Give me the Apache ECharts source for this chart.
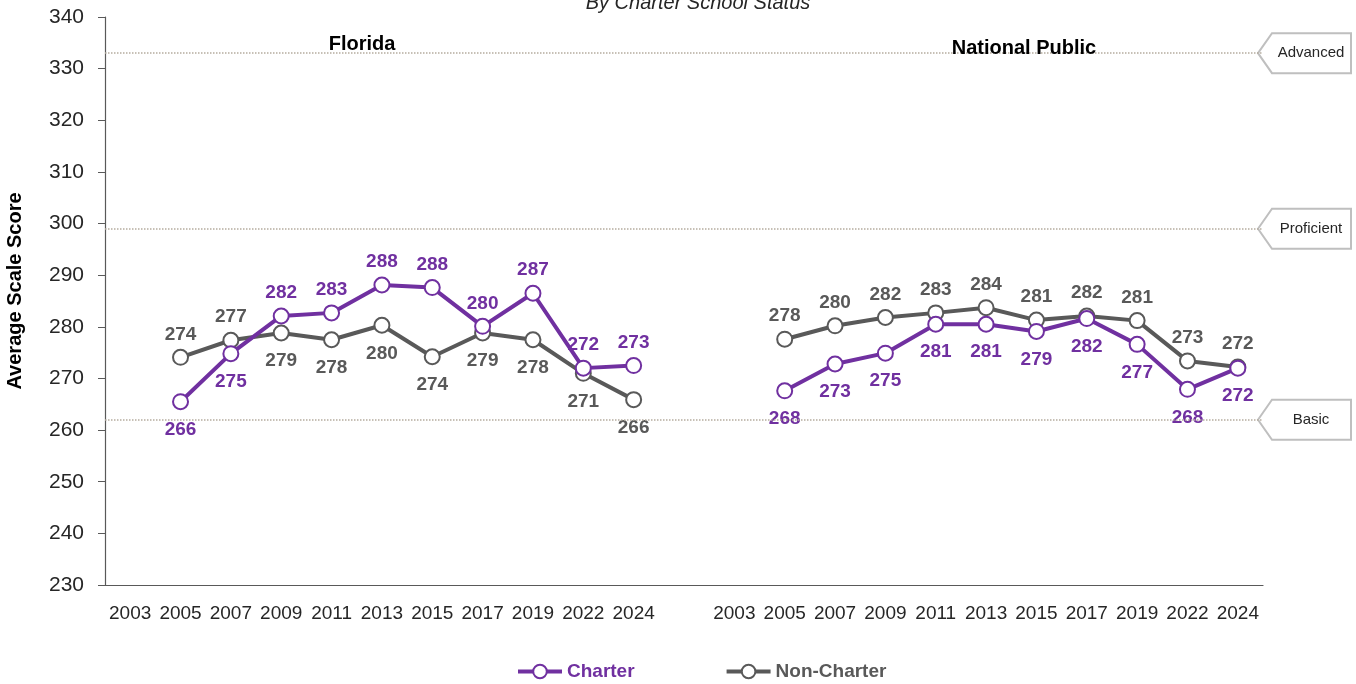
<!DOCTYPE html>
<html>
<head>
<meta charset="utf-8">
<script src="https://cdn.jsdelivr.net/npm/echarts@6/dist/echarts.min.js"></script>
<style>
    html, body { margin: 0; padding: 0; background: #fff; }
    #chart { width: 1356px; height: 684px; }
</style>
</head>
<body>
<div id="chart"></div>
<script>
// 年份（两个面板共用）
var years = ['2003', '2005', '2007', '2009', '2011', '2013', '2015', '2017', '2019', '2022', '2024'];
var tickLabels = years.concat([''], years);

// Florida
var flCharter = [null, 265.5, 274.8, 282.1, 282.7, 288.1, 287.6, 280.1, 286.5, 272.0, 272.5];
var flNonCharter = [null, 274.1, 277.4, 278.8, 277.5, 280.3, 274.2, 278.8, 277.5, 271.0, 265.9];
// National Public
var natCharter = [null, 267.6, 272.8, 274.9, 280.5, 280.5, 279.1, 281.6, 276.6, 267.9, 272.0];
var natNonCharter = [null, 277.6, 280.2, 281.8, 282.7, 283.7, 281.3, 282.1, 281.2, 273.4, 272.2];

// 成绩等级线
var levelNames = ['Advanced', 'Proficient', 'Basic'];
var levelValues = [333, 299, 262];

var PURPLE = '#7030A0';
var GRAY = '#595959';
var FONT = "'Liberation Sans', Arial, sans-serif";

// 标签位置 (上/下)
var T = 'top', B = 'bottom';
var flCharterPos = [B, B, B, T, T, T, T, T, T, T, T];
var flNonPos = [T, T, T, B, B, B, B, B, B, B, B];
var natCharterPos = [B, B, B, B, B, B, B, B, B, B, B];
var natNonPos = [T, T, T, T, T, T, T, T, T, T, T];

function buildData(fl, nat, flPos, natPos) {
    var values = fl.concat([null], nat);
    var pos = flPos.concat([T], natPos);
    var out = [];
    for (var i = 0; i < values.length; i++) {
        out.push({
            value: values[i],
            label: {position: pos[i], distance: pos[i] === T ? 5 : 10}
        });
    }
    return out;
}

var chart = echarts.init(document.getElementById('chart'));

function lineSeries(name, color, data, extra) {
    var s = {
        name: name,
        type: 'line',
        data: data,
        connectNulls: false,
        symbol: 'emptyCircle',
        symbolSize: 15,
        lineStyle: {color: color, width: 4},
        itemStyle: {color: color, borderColor: color, borderWidth: 3.5},
        label: {
            show: true,
            color: color,
            fontFamily: FONT,
            fontSize: 19,
            fontWeight: 'bold',
            formatter: function (p) {
                return p.value == null ? '' : Math.round(p.value);
            }
        },
        emphasis: {disabled: true}
    };
    for (var k in extra) s[k] = extra[k];
    return s;
}

var option = {
    animation: false,
    textStyle: {fontFamily: FONT},
    title: [{
        text: 'By Charter School Status',
        left: 693,
        top: -12,
        textAlign: 'center',
        textStyle: {fontFamily: FONT, fontSize: 20, fontStyle: 'italic', fontWeight: 'normal', color: '#262626'}
    }, {
        text: 'Florida',
        left: 357,
        top: 29,
        textAlign: 'center',
        textStyle: {fontFamily: FONT, fontSize: 20, fontWeight: 'bold', color: '#000'}
    }, {
        text: 'National Public',
        left: 1019,
        top: 33,
        textAlign: 'center',
        textStyle: {fontFamily: FONT, fontSize: 20, fontWeight: 'bold', color: '#000'}
    }],
    legend: {
        left: 511,
        top: 657,
        itemWidth: 44,
        itemHeight: 17,
        itemGap: 90,
        lineStyle: {width: 4},
        itemStyle: {borderWidth: 3.5},
        textStyle: {fontFamily: FONT, fontSize: 19, fontWeight: 'bold'},
        data: [
            {name: 'Charter', textStyle: {color: PURPLE}},
            {name: 'Non-Charter', textStyle: {color: GRAY}}
        ]
    },
    grid: {left: 105, right: 93, top: 17, bottom: 99, outerBoundsMode: 'none'},
    xAxis: {
        type: 'category',
        data: tickLabels.map(function (_, i) { return String(i); }),
        boundaryGap: true,
        axisLine: {lineStyle: {color: GRAY, width: 1.2}},
        axisTick: {alignWithLabel: true, length: 7, lineStyle: {color: GRAY}},
        axisLabel: {
            interval: 0,
            margin: 19,
            fontSize: 19,
            color: '#262626',
            formatter: function (v, i) { return tickLabels[i]; }
        }
    },
    yAxis: {
        type: 'value',
        min: 230,
        max: 340,
        interval: 10,
        name: 'Average Scale Score',
        nameLocation: 'middle',
        nameGap: 80,
        nameTextStyle: {fontFamily: FONT, fontSize: 20, fontWeight: 'bold', color: '#000', padding: [0, 0, 0, 20]},
        axisLine: {show: true, lineStyle: {color: GRAY, width: 1.2}},
        axisTick: {show: true, length: 7, lineStyle: {color: GRAY}},
        axisLabel: {fontSize: 21, color: '#262626', margin: 21},
        splitLine: {show: false}
    },
    series: [
        lineSeries('Charter', PURPLE, buildData(flCharter, natCharter, flCharterPos, natCharterPos), {
            z: 3,
            markLine: {
                silent: true,
                symbol: 'none',
                label: {show: false},
                lineStyle: {type: 'dotted', color: '#B5AC9F', width: 1.5},
                data: levelValues.map(function (v) { return {yAxis: v}; })
            }
        }),
        lineSeries('Non-Charter', GRAY, buildData(flNonCharter, natNonCharter, flNonPos, natNonPos), {z: 2})
    ]
};
chart.setOption(option);

// 右侧等级标签
var callouts = levelValues.map(function (v, i) {
    var y = chart.convertToPixel({yAxisIndex: 0}, v);
    return {
        type: 'group',
        children: [{
            type: 'polygon',
            shape: {points: [[1258, y], [1272, y - 20], [1351, y - 20], [1351, y + 20], [1272, y + 20]]},
            style: {fill: '#fff', stroke: '#BFBFBF', lineWidth: 2}
        }, {
            type: 'text',
            style: {
                text: levelNames[i],
                x: 1311,
                y: y,
                align: 'center',
                verticalAlign: 'middle',
                fontFamily: FONT,
                fontSize: 15,
                fill: '#262626'
            }
        }]
    };
});
chart.setOption({graphic: callouts});
</script>
</body>
</html>
